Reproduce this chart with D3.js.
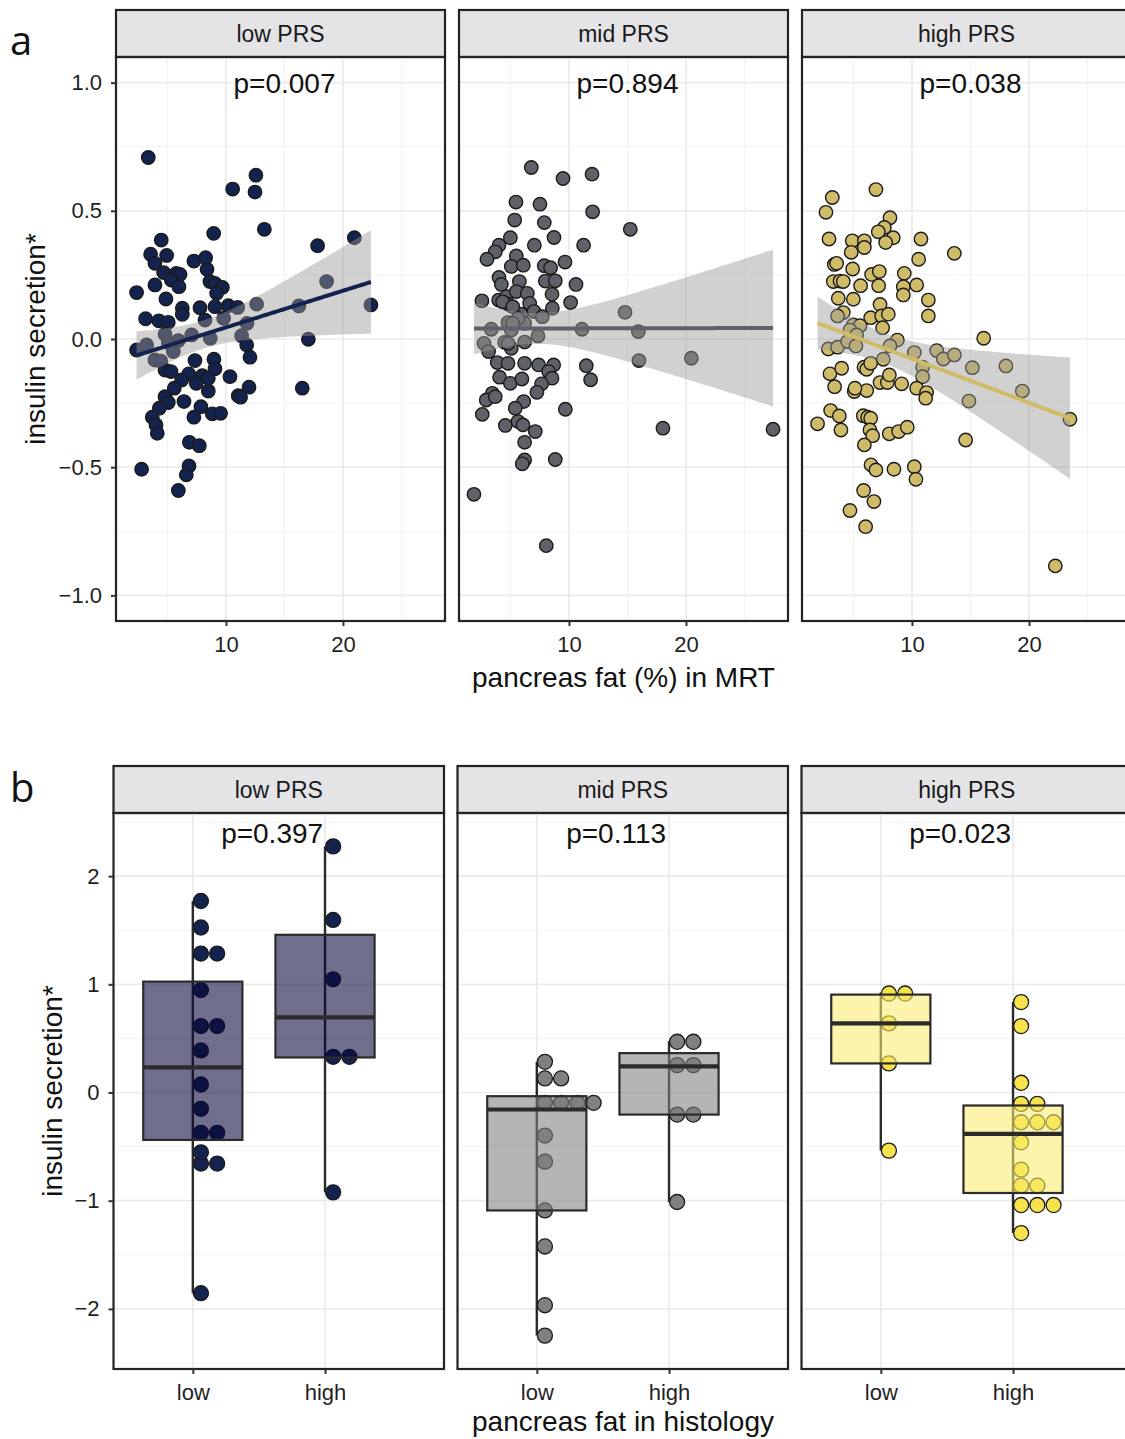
<!DOCTYPE html>
<html>
<head>
<meta charset="utf-8">
<script src="https://cdn.jsdelivr.net/npm/d3@7"></script>
<style>
  body { margin: 0; background: #fff; }
  svg { display: block; font-family: "Liberation Sans", Arial, Helvetica, sans-serif; }
</style>
</head>
<body>
<svg id="fig" width="1125" height="1439"></svg>
<script>
// ---- data -------------------------------------------------------------
var groups = ["low PRS", "mid PRS", "high PRS"];

// panel a: [pancreas fat % (MRT), insulin secretion*]
var mrtLow = [[3.36,0.708],[12.56,0.639],[10.57,0.585],[12.48,0.573],[13.28,0.428],[8.95,0.412],[17.83,0.364],[20.97,0.395],[4.47,0.386],[3.56,0.331],[4.93,0.326],[3.93,0.295],[7.26,0.304],[8.26,0.317],[8.38,0.272],[4.67,0.259],[5.75,0.256],[6.07,0.252],[5.33,0.230],[3.93,0.211],[5.98,0.204],[8.63,0.224],[9.06,0.217],[9.69,0.201],[2.36,0.181],[4.87,0.156],[9.20,0.178],[18.60,0.224],[12.62,0.136],[7.78,0.122],[9.06,0.126],[10.20,0.130],[11.00,0.123],[6.27,0.120],[6.27,0.096],[16.23,0.129],[22.39,0.133],[3.13,0.079],[4.27,0.071],[5.07,0.065],[8.21,0.074],[9.80,0.081],[11.79,0.061],[4.79,0.019],[5.93,-0.006],[7.07,0.016],[8.66,0.003],[3.22,-0.023],[5.07,-0.014],[11.34,0.013],[2.36,-0.043],[17.04,-0.001],[11.77,-0.023],[12.05,-0.071],[5.50,-0.049],[3.93,-0.082],[4.42,-0.086],[7.35,-0.084],[8.97,-0.079],[4.79,-0.121],[5.30,-0.127],[9.06,-0.116],[6.82,-0.136],[7.98,-0.143],[10.34,-0.147],[6.21,-0.160],[7.46,-0.173],[8.49,-0.153],[5.58,-0.192],[11.97,-0.188],[16.52,-0.192],[4.79,-0.225],[5.07,-0.248],[6.41,-0.244],[11.05,-0.221],[11.25,-0.227],[8.49,-0.203],[4.30,-0.270],[7.86,-0.264],[8.83,-0.292],[9.54,-0.290],[7.26,-0.305],[3.70,-0.305],[4.02,-0.335],[4.13,-0.368],[6.87,-0.403],[7.72,-0.416],[6.84,-0.495],[6.61,-0.530],[2.79,-0.508],[5.93,-0.591]];
var mrtMid = [[6.78,0.669],[9.49,0.626],[11.97,0.643],[5.47,0.534],[7.52,0.526],[12.02,0.496],[5.36,0.464],[7.89,0.454],[15.24,0.428],[4.99,0.395],[7.04,0.366],[8.72,0.396],[11.25,0.366],[4.02,0.366],[3.70,0.340],[2.99,0.311],[5.50,0.324],[5.07,0.283],[6.10,0.288],[7.89,0.286],[8.43,0.278],[9.66,0.300],[4.02,0.240],[4.22,0.213],[5.76,0.224],[7.98,0.226],[8.83,0.227],[10.60,0.213],[2.56,0.149],[3.99,0.152],[4.64,0.165],[4.79,0.136],[5.50,0.185],[6.44,0.178],[8.55,0.175],[10.14,0.142],[6.64,0.139],[7.01,0.107],[8.58,0.120],[7.72,0.087],[5.93,0.097],[14.79,0.104],[4.79,0.064],[6.21,0.061],[3.36,0.038],[11.11,0.038],[5.07,0.035],[7.35,0.012],[15.93,0.029],[2.74,-0.017],[3.13,-0.049],[4.50,-0.013],[5.07,-0.036],[6.21,-0.012],[15.98,-0.084],[20.46,-0.075],[3.87,-0.092],[4.79,-0.095],[6.21,-0.095],[7.41,-0.101],[8.69,-0.101],[11.48,-0.104],[4.07,-0.149],[4.99,-0.173],[5.98,-0.156],[8.26,-0.127],[8.55,-0.153],[11.85,-0.159],[7.66,-0.175],[7.26,-0.208],[3.45,-0.212],[2.93,-0.238],[3.70,-0.225],[6.13,-0.244],[5.41,-0.270],[9.69,-0.274],[2.59,-0.294],[4.56,-0.337],[5.64,-0.322],[6.07,-0.335],[7.12,-0.361],[18.03,-0.348],[27.44,-0.352],[6.21,-0.403],[6.21,-0.472],[6.01,-0.487],[8.83,-0.470],[1.88,-0.606],[8.06,-0.806],[4.33,0.145],[5.20,0.126],[5.64,0.080],[4.79,-0.017],[5.20,0.061]];
var mrtHigh = [[6.92,0.583],[3.19,0.552],[2.65,0.494],[8.12,0.473],[7.64,0.435],[7.12,0.418],[8.40,0.395],[7.75,0.376],[2.91,0.390],[4.90,0.383],[5.93,0.383],[5.93,0.357],[4.81,0.338],[10.77,0.390],[13.62,0.334],[10.57,0.311],[3.36,0.291],[3.56,0.295],[4.93,0.273],[6.55,0.252],[7.21,0.263],[9.34,0.256],[3.28,0.224],[3.85,0.226],[4.13,0.224],[5.61,0.208],[7.15,0.208],[9.26,0.204],[10.40,0.211],[9.26,0.172],[3.70,0.159],[4.99,0.155],[11.40,0.152],[11.40,0.090],[7.27,0.135],[4.13,0.103],[3.64,0.090],[6.47,0.083],[7.41,0.090],[7.98,0.097],[4.99,0.055],[5.56,0.052],[4.70,0.035],[5.27,0.016],[7.49,0.044],[16.13,0.003],[8.75,-0.004],[2.85,-0.039],[3.64,-0.032],[4.50,-0.010],[5.21,-0.027],[8.12,-0.027],[10.20,-0.053],[12.11,-0.045],[12.68,-0.078],[13.62,-0.062],[7.55,-0.079],[10.91,-0.110],[15.16,-0.112],[18.03,-0.105],[2.99,-0.136],[3.99,-0.114],[5.90,-0.110],[6.13,-0.118],[6.47,-0.095],[10.91,-0.147],[3.39,-0.186],[5.07,-0.205],[6.13,-0.201],[5.13,-0.192],[7.27,-0.170],[7.90,-0.170],[8.07,-0.140],[9.12,-0.175],[10.40,-0.192],[11.25,-0.209],[11.17,-0.231],[19.43,-0.203],[14.87,-0.242],[23.50,-0.313],[3.05,-0.279],[3.79,-0.300],[1.93,-0.331],[3.93,-0.355],[5.84,-0.299],[6.21,-0.305],[6.47,-0.309],[6.41,-0.355],[6.64,-0.377],[5.93,-0.413],[8.06,-0.370],[8.86,-0.361],[9.60,-0.344],[14.59,-0.394],[6.50,-0.491],[6.92,-0.511],[8.46,-0.508],[10.20,-0.498],[10.34,-0.547],[5.87,-0.591],[6.75,-0.634],[4.70,-0.669],[6.04,-0.732],[22.25,-0.885]];
var pA = ["p=0.007", "p=0.894", "p=0.038"];

// panel b: insulin secretion* by histology fat category
var histCats = ["low", "high"];
var histLowPRS  = [[-1.855,-0.71,-0.604,-0.553,-0.40,-0.346,-0.151,0.074,0.389,0.60,0.628,0.947,1.259,1.309,1.525,1.77],
                   [-0.923,0.318,0.342,1.046,1.595,2.275]];
var histMidPRS  = [[-2.247,-1.966,-1.423,-1.09,-0.639,-0.398,-0.157,-0.12,-0.07,-0.034,0.11,0.15,0.284],
                   [-1.012,-0.22,-0.188,0.241,0.265,0.463,0.475]];
var histHighPRS = [[-0.537,0.269,0.639,0.905,0.925],
                   [-1.299,-1.11,-1.04,-0.97,-0.915,-0.807,-0.713,-0.46,-0.306,-0.275,-0.244,-0.135,-0.075,0.09,0.614,0.836]];
var pB = ["p=0.397", "p=0.113", "p=0.023"];

var colA = ["#14224e", "#5f6168", "#d0bc68"];
var colB = ["#14224e", "#808080", "#f6e34b"];
var boxFill = ["#07073a", "#808080", "#f8ec6d"];

// ---- layout -----------------------------------------------------------
var svg = d3.select("#fig");
var ink = "#232323";
var leftsA = [116, 459, 802], topA = 57, hA = 564, wA = 329;
var leftsB = [113.5, 457.5, 801.5], topB = 813, hB = 556, wB = 330.5;
var stripH = 47;

function strip(x, y, w, label) {
    svg.append("rect").attr("x", x).attr("y", y - stripH).attr("width", w).attr("height", stripH)
        .attr("fill", "#e4e4e6").attr("stroke", ink).attr("stroke-width", 2.2);
    svg.append("text").attr("x", x + w/2).attr("y", y - stripH/2 + 8)
        .attr("text-anchor", "middle").attr("font-size", 23).attr("fill", "#1a1a1a").text(label);
}
function border(g, w, h) {
    g.append("rect").attr("width", w).attr("height", h)
        .attr("fill", "none").attr("stroke", ink).attr("stroke-width", 2.2);
}
function styleAxis(sel) {
    sel.select(".domain").remove();
    sel.selectAll(".tick line").attr("stroke", "#333").attr("stroke-width", 2);
    sel.selectAll(".tick text").attr("font-size", 22).attr("fill", "#1f1f1f")
        .attr("font-family", "Liberation Sans, Arial, sans-serif");
}
function grid(g, xs, ys, xMaj, xMin, yMaj, yMin, w, h) {
    g.selectAll(null).data(yMin).enter().append("line")
        .attr("x1", 0).attr("x2", w).attr("y1", ys).attr("y2", ys)
        .attr("stroke", "#f2f2f2").attr("stroke-width", 1);
    g.selectAll(null).data(xMin).enter().append("line")
        .attr("y1", 0).attr("y2", h).attr("x1", xs).attr("x2", xs)
        .attr("stroke", "#f2f2f2").attr("stroke-width", 1);
    g.selectAll(null).data(yMaj).enter().append("line")
        .attr("x1", 0).attr("x2", w).attr("y1", ys).attr("y2", ys)
        .attr("stroke", "#ebebeb").attr("stroke-width", 1.7);
    g.selectAll(null).data(xMaj).enter().append("line")
        .attr("y1", 0).attr("y2", h).attr("x1", xs).attr("x2", xs)
        .attr("stroke", "#ebebeb").attr("stroke-width", 1.7);
}

// linear fit with 95% confidence band, like geom_smooth(method = "lm")
function linfit(pts) {
    var n = pts.length, mx = d3.mean(pts, d => d[0]), my = d3.mean(pts, d => d[1]);
    var sxx = d3.sum(pts, d => (d[0]-mx)*(d[0]-mx));
    var sxy = d3.sum(pts, d => (d[0]-mx)*(d[1]-my));
    var b = sxy/sxx, a = my - b*mx;
    var s = Math.sqrt(d3.sum(pts, d => Math.pow(d[1]-a-b*d[0], 2))/(n-2));
    var df = n - 2, z = 1.959964;
    var t = z + (z*z*z + z)/(4*df) + (5*Math.pow(z,5) + 16*z*z*z + 3*z)/(96*df*df);
    var ext = d3.extent(pts, d => d[0]);
    return d3.range(81).map(function(i) {
        var x = ext[0] + (ext[1]-ext[0])*i/80, yh = a + b*x;
        var se = s*Math.sqrt(1/n + (x-mx)*(x-mx)/sxx);
        return { x: x, y: yh, lo: yh - t*se, hi: yh + t*se };
    });
}

// ---- panel a -----------------------------------------------------------
var setsA = [mrtLow, mrtMid, mrtHigh];
var allX = d3.extent([].concat(mrtLow, mrtMid, mrtHigh), d => d[0]);
var padX = (allX[1]-allX[0])*0.05;
var xA = d3.scaleLinear().domain([allX[0]-padX, allX[1]+padX]).range([0, wA]);
var yA = d3.scaleLinear().domain([-1.1, 1.1]).range([hA, 0]);

setsA.forEach(function(pts, i) {
    var L = leftsA[i];
    strip(L, topA, wA, groups[i]);
    var g = svg.append("g").attr("transform", "translate(" + L + "," + topA + ")");
    grid(g, xA, yA, [10, 20], [5, 15, 25], [-1, -0.5, 0, 0.5, 1], [-0.75, -0.25, 0.25, 0.75], wA, hA);

    g.selectAll("circle").data(pts).enter().append("circle")
        .attr("cx", d => xA(d[0])).attr("cy", d => yA(d[1])).attr("r", 6.7)
        .attr("fill", colA[i]).attr("stroke", "#1b1b1b").attr("stroke-width", 1.4);

    var fit = linfit(pts);
    g.append("path").datum(fit)
        .attr("d", d3.area().x(d => xA(d.x)).y0(d => yA(d.lo)).y1(d => yA(d.hi)))
        .attr("fill", "#999999").attr("fill-opacity", 0.45);
    g.append("path").datum(fit)
        .attr("d", d3.line().x(d => xA(d.x)).y(d => yA(d.y)))
        .attr("fill", "none").attr("stroke", colA[i]).attr("stroke-width", 4);

    g.append("text").attr("x", xA(15)).attr("y", yA(1.0)).attr("dy", "0.36em")
        .attr("text-anchor", "middle").attr("font-size", 28).attr("fill", "#111").text(pA[i]);

    border(g, wA, hA);
    var ax = g.append("g").attr("transform", "translate(0," + hA + ")")
        .call(d3.axisBottom(xA).tickValues([10, 20]).tickSize(5).tickPadding(10));
    styleAxis(ax);
    if (i === 0) {
        var ay = g.append("g").call(d3.axisLeft(yA).tickValues([-1, -0.5, 0, 0.5, 1])
            .tickFormat(d3.format(".1f")).tickSize(5).tickPadding(9));
        styleAxis(ay);
    }
});

svg.append("text").attr("x", 623.5).attr("y", 687).attr("text-anchor", "middle")
    .attr("font-size", 28).attr("fill", "#111").text("pancreas fat (%) in MRT");
svg.append("text").attr("transform", "translate(45,339) rotate(-90)").attr("text-anchor", "middle")
    .attr("font-size", 28).attr("fill", "#111").text("insulin secretion*");

// ---- panel b -----------------------------------------------------------
var setsB = [histLowPRS, histMidPRS, histHighPRS];
var bw = 0.15;   // dot bin width (y units)

function dotBins(vals) {
    var v = vals.slice().sort(d3.ascending), bins = [], end = -Infinity;
    v.forEach(function(x) {
        if (x >= end) { bins.push([]); end = x + bw; }
        bins[bins.length-1].push(x);
    });
    return bins.map(b => ({ c: (b[0] + b[b.length-1])/2, n: b.length }));
}
function boxStats(vals) {
    var v = vals.slice().sort(d3.ascending);
    var q1 = d3.quantile(v, 0.25), md = d3.quantile(v, 0.5), q3 = d3.quantile(v, 0.75), iqr = q3 - q1;
    return { q1: q1, md: md, q3: q3,
             lo: d3.min(v.filter(x => x >= q1 - 1.5*iqr)),
             hi: d3.max(v.filter(x => x <= q3 + 1.5*iqr)) };
}

var binsB = setsB.map(s => s.map(dotBins));
var centers = [].concat.apply([], binsB.map(s => [].concat.apply([], s))).map(b => b.c);
var yr = [d3.min(centers) - bw/2, d3.max(centers) + bw/2];
var padY = (yr[1]-yr[0])*0.05;
var yB = d3.scaleLinear().domain([yr[0]-padY, yr[1]+padY]).range([hB, 0]);
var xB = d3.scaleLinear().domain([0.4, 2.9]).range([0, wB]);
var diam = yB(0) - yB(bw);

setsB.forEach(function(sets, i) {
    var L = leftsB[i];
    strip(L, topB, wB, groups[i]);
    var g = svg.append("g").attr("transform", "translate(" + L + "," + topB + ")");
    grid(g, xB, yB, [1, 2], [], [-2, -1, 0, 1, 2], [-2.5, -1.5, -0.5, 0.5, 1.5, 2.5], wB, hB);

    sets.forEach(function(vals, k) {
        var cx = xB(k + 1), st = boxStats(vals);
        g.append("line").attr("x1", cx).attr("x2", cx)
            .attr("y1", yB(st.lo)).attr("y2", yB(st.hi))
            .attr("stroke", "#2b2b2b").attr("stroke-width", 2.4);

        var dots = [];
        binsB[i][k].forEach(b => d3.range(b.n).forEach(j => dots.push({ c: b.c, j: j })));
        g.selectAll(null).data(dots).enter().append("circle")
            .attr("cx", d => cx + (d.j + 0.5)*diam).attr("cy", d => yB(d.c))
            .attr("r", diam/2 - 0.6)
            .attr("fill", colB[i]).attr("stroke", "#1b1b1b").attr("stroke-width", 1.3);

        var x0 = xB(k + 1 - 0.375), x1 = xB(k + 1 + 0.375);
        g.append("rect").attr("x", x0).attr("width", x1 - x0)
            .attr("y", yB(st.q3)).attr("height", yB(st.q1) - yB(st.q3))
            .attr("fill", boxFill[i]).attr("fill-opacity", 0.58)
            .attr("stroke", "#2b2b2b").attr("stroke-width", 2.2);
        g.append("line").attr("x1", x0).attr("x2", x1)
            .attr("y1", yB(st.md)).attr("y2", yB(st.md))
            .attr("stroke", "#2b2b2b").attr("stroke-width", 4.2);
    });

    g.append("text").attr("x", xB(1.6)).attr("y", yB(2.4)).attr("dy", "0.36em")
        .attr("text-anchor", "middle").attr("font-size", 28).attr("fill", "#111").text(pB[i]);

    border(g, wB, hB);
    var ax = g.append("g").attr("transform", "translate(0," + hB + ")")
        .call(d3.axisBottom(xB).tickValues([1, 2]).tickFormat(d => histCats[d-1]).tickSize(5).tickPadding(10));
    styleAxis(ax);
    if (i === 0) {
        var ay = g.append("g").call(d3.axisLeft(yB).tickValues([-2, -1, 0, 1, 2])
            .tickFormat(d3.format("d")).tickSize(5).tickPadding(9));
        styleAxis(ay);
    }
});

svg.append("text").attr("x", 623).attr("y", 1431).attr("text-anchor", "middle")
    .attr("font-size", 28).attr("fill", "#111").text("pancreas fat in histology");
svg.append("text").attr("transform", "translate(62,1091) rotate(-90)").attr("text-anchor", "middle")
    .attr("font-size", 28).attr("fill", "#111").text("insulin secretion*");

// panel letters
svg.append("text").attr("x", 10).attr("y", 55).attr("font-size", 40)
    .attr("font-family", "Open Sans, sans-serif").attr("fill", "#111").text("a");
svg.append("text").attr("x", 10).attr("y", 802).attr("font-size", 40)
    .attr("font-family", "Open Sans, sans-serif").attr("fill", "#111").text("b");
</script>
</body>
</html>
